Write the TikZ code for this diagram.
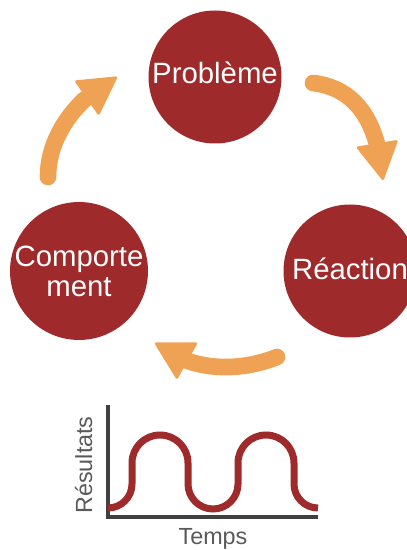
\documentclass[tikz,border=0pt]{standalone}
\usepackage{fontspec}
\setmainfont{Liberation Sans}
\usetikzlibrary{arrows.meta,bending}
\definecolor{brick}{RGB}{159,42,43}
\definecolor{peach}{RGB}{240,162,84}
\definecolor{axisgray}{RGB}{64,64,64}
\definecolor{labelgray}{RGB}{90,90,90}

\begin{document}
\begin{tikzpicture}[
  x=0.75pt, y=0.75pt,
  stage/.style={circle,fill=brick,text=white,inner sep=0pt,minimum size=99.75pt,align=center,font=\fontsize{22}{22.5}\selectfont},
  loop/.style={peach,line width=12.5pt,line cap=round,-{Triangle[length=29pt,width=32pt,round,line width=2pt]}},
  axislbl/.style={text=labelgray,inner sep=0pt,font=\fontsize{17.5}{19}\selectfont}]
\useasboundingbox (0,0) rectangle (407,550);
\node[stage,text depth=7pt] (prob) at (215,473) {Problème};
\node[stage,text depth=3pt] (reac) at (350,279) {Réaction};
\node[stage] (comp) at (79,279) {Comporte\\ment};
% cycle arrows
\coordinate (a1s) at (48,373);  \coordinate (a1e) at (117,473);
\coordinate (a2s) at (313,467); \coordinate (a2e) at (383,370);
\coordinate (a3s) at (277,193); \coordinate (a3e) at (155,207);
\draw[loop] (a1s) .. controls +(0,47) and +(-32,-15) .. (a1e);
\draw[loop] (a2s) .. controls +(42,-5) and +(-5,60) .. (a2e);
\draw[loop] (a3s) .. controls +(-32,-13) and +(40,-32) .. (a3e);
% small chart
\coordinate (o) at (108,33);
\draw[axisgray,line width=3pt] (108,145) -- (o) -- (318,33);
\draw[brick,line width=5.25pt] (108,42) arc[start angle=-90,end angle=0,radius=24] -- ++(0,21)
  arc[start angle=180,end angle=0,radius=28] -- ++(0,-21)
  arc[start angle=180,end angle=360,radius=25] -- ++(0,21)
  arc[start angle=180,end angle=0,radius=28] -- ++(0,-21)
  arc[start angle=180,end angle=270,radius=24];
\node[axislbl,anchor=base] (tlbl) at (213,6) {Temps};
\node[axislbl,anchor=base,rotate=90] (rlbl) at (92,85) {Résultats};
\end{tikzpicture}
\end{document}
